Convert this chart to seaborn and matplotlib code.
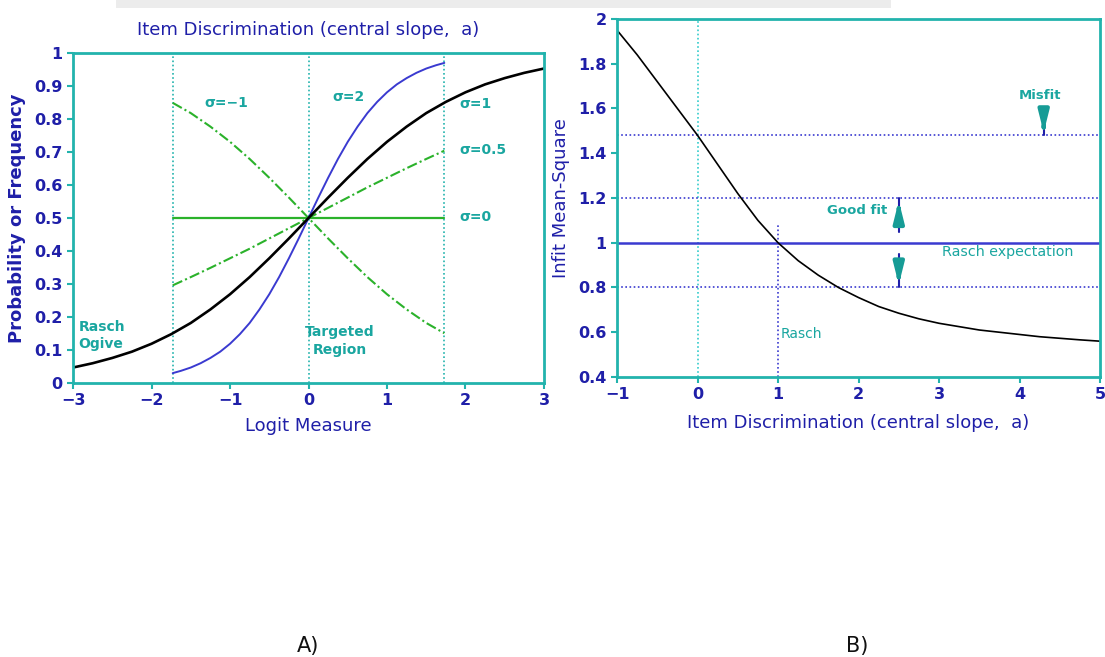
import numpy as np
import pandas as pd
import matplotlib
matplotlib.use("Agg")
import matplotlib.pyplot as plt
from matplotlib.patches import Rectangle
import seaborn as sns

# ---- Panel A: item characteristic curves for several central slopes ----
ogive_x = [-3.0, -2.75, -2.5, -2.25, -2.0, -1.75, -1.5, -1.25, -1.0, -0.75, -0.5, -0.25, 0.0,
           0.25, 0.5, 0.75, 1.0, 1.25, 1.5, 1.75, 2.0, 2.25, 2.5, 2.75, 3.0]
ogive_p = [0.047, 0.060, 0.076, 0.095, 0.119, 0.148, 0.182, 0.223, 0.269, 0.321, 0.378, 0.438, 0.500,
           0.562, 0.622, 0.679, 0.731, 0.777, 0.818, 0.852, 0.881, 0.905, 0.924, 0.940, 0.953]

steep_x = [-1.73, -1.625, -1.5, -1.375, -1.25, -1.125, -1.0, -0.875, -0.75, -0.625, -0.5, -0.375,
           -0.25, -0.125, 0.0, 0.125, 0.25, 0.375, 0.5, 0.625, 0.75, 0.875, 1.0, 1.125, 1.25,
           1.375, 1.5, 1.625, 1.73]
steep_p = [0.030, 0.037, 0.047, 0.060, 0.076, 0.095, 0.119, 0.148, 0.182, 0.223, 0.269, 0.321,
           0.378, 0.438, 0.500, 0.562, 0.622, 0.679, 0.731, 0.777, 0.818, 0.852, 0.881, 0.905, 0.924,
           0.940, 0.953, 0.963, 0.970]

half_x = [-1.73, -1.5, -1.25, -1.0, -0.75, -0.5, -0.25, 0.0, 0.25, 0.5, 0.75, 1.0, 1.25, 1.5, 1.73]
half_p = [0.296, 0.321, 0.349, 0.378, 0.407, 0.438, 0.469, 0.500, 0.531, 0.562, 0.593, 0.622,
          0.651, 0.679, 0.704]

neg_x = [-1.73, -1.5, -1.25, -1.0, -0.75, -0.5, -0.25, 0.0, 0.25, 0.5, 0.75, 1.0, 1.25, 1.5, 1.73]
neg_p = [0.849, 0.818, 0.777, 0.731, 0.679, 0.622, 0.562, 0.500, 0.438, 0.378, 0.321, 0.269,
         0.223, 0.182, 0.151]

flat_x = [-1.73, 1.73]
flat_p = [0.50, 0.50]

region_edges = [-1.73, 0.0, 1.73]

# ---- Panel B: infit mean-square against item discrimination ----
disc_x = [-1.0, -0.75, -0.5, -0.25, 0.0, 0.25, 0.5, 0.75, 1.0, 1.25, 1.5, 1.75, 2.0, 2.25, 2.5,
          2.75, 3.0, 3.25, 3.5, 3.75, 4.0, 4.25, 4.5, 4.75, 5.0]
infit = [1.95, 1.84, 1.72, 1.60, 1.48, 1.35, 1.22, 1.10, 1.00, 0.92, 0.855, 0.80, 0.755, 0.715,
         0.685, 0.66, 0.64, 0.625, 0.61, 0.60, 0.59, 0.58, 0.573, 0.566, 0.56]

fit_bounds = [1.48, 1.2, 0.8]
rasch_expect = 1.0

TEAL = "#22b3ad"
LABEL_TEAL = "#1aa6a0"
NAVY = "#1f1fa8"
BLUE = "#3a3ad0"
GREEN = "#2bb22b"

sns.set_style("white")
plt.rcParams["font.family"] = ["DejaVu Sans"]

fig = plt.figure(figsize=(11.05, 6.57), dpi=100)

# faint grey strip along the top edge
fig.patches.append(Rectangle((116 / 1105, 1 - 8 / 657), (891 - 116) / 1105, 8 / 657,
                             transform=fig.transFigure, facecolor="#ececec",
                             edgecolor="none", zorder=0))

axA = fig.add_axes([0.0661, 0.417, 0.4262, 0.5023])
axB = fig.add_axes([0.5584, 0.4262, 0.4371, 0.5449])


def style_axes(ax):
    for s in ax.spines.values():
        s.set_color(TEAL)
        s.set_linewidth(2)
    ax.tick_params(axis="both", colors=TEAL, direction="out", length=4, width=1.5,
                   labelcolor=NAVY, labelsize=11.5, left=True, bottom=True)
    for lab in ax.get_xticklabels() + ax.get_yticklabels():
        lab.set_fontweight("bold")


def fmt(v):
    return f"{v:g}".replace("-", "\u2212")


# Panel A
for xv in region_edges:
    axA.axvline(xv, color=TEAL, lw=1.2, ls=(0, (1, 1.5)))

sns.lineplot(x=flat_x, y=flat_p, ax=axA, color=GREEN, lw=1.6)
sns.lineplot(x=half_x, y=half_p, ax=axA, color=GREEN, lw=1.5, ls=(0, (5, 1.5, 1, 1.5)))
sns.lineplot(x=neg_x, y=neg_p, ax=axA, color=GREEN, lw=1.5, ls=(0, (5, 1.5, 1, 1.5)))
sns.lineplot(x=steep_x, y=steep_p, ax=axA, color=BLUE, lw=1.4)
sns.lineplot(x=ogive_x, y=ogive_p, ax=axA, color="black", lw=1.9)

axA.set_xlim(-3, 3)
axA.set_ylim(0, 1)
xtA = [-3, -2, -1, 0, 1, 2, 3]
axA.set_xticks(xtA)
axA.set_xticklabels([fmt(v) for v in xtA])
ytA = [0, 0.1, 0.2, 0.3, 0.4, 0.5, 0.6, 0.7, 0.8, 0.9, 1]
axA.set_yticks(ytA)
axA.set_yticklabels([fmt(v) for v in ytA])
style_axes(axA)
axA.set_xlabel("Logit Measure", color=NAVY, fontsize=13, labelpad=6)
axA.set_ylabel("Probability or Frequency", color=NAVY, fontsize=13, fontweight="bold", labelpad=6)
axA.set_title("Item Discrimination (central slope,  a)", color=NAVY, fontsize=13, pad=13)

lab_kw = dict(color=LABEL_TEAL, fontsize=10, fontweight="bold")
axA.text(-1.33, 0.848, "\u03c3=\u22121", ha="left", va="center", **lab_kw)
axA.text(0.3, 0.867, "\u03c3=2", ha="left", va="center", **lab_kw)
axA.text(1.92, 0.845, "\u03c3=1", ha="left", va="center", **lab_kw)
axA.text(1.92, 0.706, "\u03c3=0.5", ha="left", va="center", **lab_kw)
axA.text(1.92, 0.503, "\u03c3=0", ha="left", va="center", **lab_kw)
axA.text(-2.93, 0.145, "Rasch\nOgive", ha="left", va="center", linespacing=1.3, **lab_kw)
axA.text(0.4, 0.127, "Targeted\nRegion", ha="center", va="center", linespacing=1.3, **lab_kw)

# Panel B
axB.axvline(0, color="#33cccc", lw=1.2, ls=(0, (1, 1.5)))
axB.plot([1, 1], [0.4, 1.09], color=BLUE, lw=1.2, ls=(0, (1, 1.5)))
for yv in fit_bounds:
    axB.axhline(yv, color=BLUE, lw=1.2, ls=(0, (1, 1.5)))
axB.axhline(rasch_expect, color=BLUE, lw=1.8)

sns.lineplot(x=disc_x, y=infit, ax=axB, color="black", lw=1.2)


def fit_arrow(ax, x, y_from, y_to):
    ax.plot([x, x], [y_from, y_to], color=NAVY, lw=1.5)
    ax.annotate("", xy=(x, y_to), xytext=(x, y_to + (y_from - y_to) * 0.5),
                arrowprops=dict(arrowstyle="-|>,head_width=0.3,head_length=1.2",
                                color="#169c96", lw=3))


fit_arrow(axB, 2.5, 1.05, 1.2)
fit_arrow(axB, 2.5, 0.95, 0.8)
fit_arrow(axB, 4.3, 1.59, 1.48)

rkw = dict(color=LABEL_TEAL, fontsize=9.5, fontweight="bold")
axB.text(4.25, 1.66, "Misfit", ha="center", va="center", **rkw)
axB.text(2.36, 1.146, "Good fit", ha="right", va="center", **rkw)
axB.text(3.04, 0.958, "Rasch expectation", ha="left", va="center",
         color=LABEL_TEAL, fontsize=10.3)
axB.text(1.03, 0.59, "Rasch", ha="left", va="center", color=LABEL_TEAL, fontsize=10)

axB.set_xlim(-1, 5)
axB.set_ylim(0.4, 2)
xtB = [-1, 0, 1, 2, 3, 4, 5]
axB.set_xticks(xtB)
axB.set_xticklabels([fmt(v) for v in xtB])
ytB = [0.4, 0.6, 0.8, 1.0, 1.2, 1.4, 1.6, 1.8, 2.0]
axB.set_yticks(ytB)
axB.set_yticklabels([fmt(v) for v in ytB])
style_axes(axB)
axB.set_xlabel("Item Discrimination (central slope,  a)", color=NAVY, fontsize=13, labelpad=8)
axB.set_ylabel("Infit Mean-Square", color=NAVY, fontsize=13, labelpad=6)

fig.text(308 / 1105, 1 - 646 / 657, "A)", ha="center", va="center", fontsize=15, color="#111111")
fig.text(857 / 1105, 1 - 646 / 657, "B)", ha="center", va="center", fontsize=15, color="#111111")

fig.savefig("out.png", dpi=100, facecolor="white")
